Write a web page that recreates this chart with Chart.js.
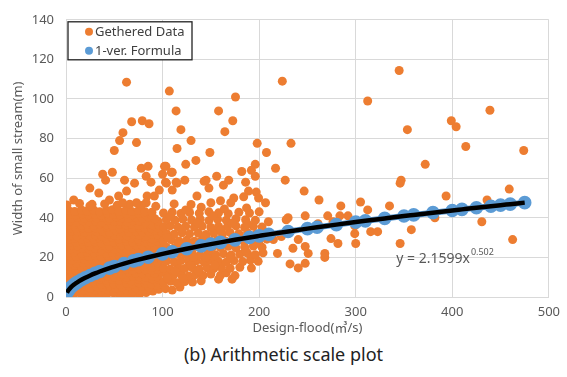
<!DOCTYPE html>
<html>
<head>
<meta charset="utf-8">
<script src="https://cdn.jsdelivr.net/npm/chart.js@4.4.0/dist/chart.umd.min.js"></script>
<style>
  html, body { margin: 0; padding: 0; background: #fff; }
  #wrap { position: relative; width: 567px; height: 377px; }
  #caption {
    position: absolute; left: 0; top: 342px; width: 567px; text-align: center;
    font-family: "Noto Sans", "Open Sans", sans-serif; font-size: 18px; color: #222;
  }
</style>
</head>
<body>
<div id="wrap">
  <canvas id="chart" width="567" height="340"></canvas>
  <div id="caption">(b) Arithmetic scale plot</div>
</div>
<script>
// gathered data: [design-flood, width]
const gathered = [
  // dense core, x 0-100
  [3,1.2],[9,2.0],[16,1.0],[22,1.8],[29,0.9],[35,1.6],[42,1.1],[49,2.1],[55,1.3],[62,0.8],[69,1.7],[76,1.2],[83,2.3],[90,3.0],
  [4.5,3.3],[11,3.0],[17.5,3.5],[24,2.9],[30.5,3.4],[37,3.1],[43.5,3.6],[50,2.8],[56.5,3.3],[63,3.5],[69.5,3.0],[76,3.4],[82.5,3.8],[89,4.4],[96,3.9],
  [1,4.6],[6,5.3],[12,4.8],[19,5.6],[25,4.4],[32,5.2],[38,4.9],[45,5.5],[52,4.5],[58,5.1],[65,5.7],[72,4.6],[79,5.3],[86,4.9],[93,6.0],[99,6.5],
  [4,6.8],[10.5,6.5],[17,7.0],[23.5,6.6],[30,6.9],[36.5,6.4],[43,7.1],[49.5,6.7],[56,6.3],[62.5,7.0],[69,6.6],[75.5,7.2],[82,6.8],[88.5,6.5],[95,7.1],
  [3,8.2],[9,8.9],[15,8.4],[22,8.7],[28,8.1],[35,9.0],[42,8.3],[48,8.8],[55,8.5],[62,9.1],[68,8.2],[75,8.9],[82,8.4],[89,9.2],[96,8.8],
  [4.5,10.3],[11,9.9],[17.5,10.5],[24,10.0],[30.5,10.4],[37,9.8],[43.5,10.6],[50,10.1],[56.5,10.3],[63,9.9],[69.5,10.5],[76,10.2],[82.5,9.8],[89,10.6],[95.5,10.1],
  [1,11.8],[6,12.3],[12,11.6],[19,12.4],[25,12.0],[32,11.7],[38,12.5],[45,11.9],[52,12.2],[58,11.5],[65,12.6],[72,12.1],[79,11.8],[86,12.4],[92,11.9],[99,12.7],
  [4,13.8],[10.5,13.5],[17,14.0],[23.5,13.6],[30,13.9],[36.5,13.4],[43,14.1],[49.5,13.7],[56,13.5],[62.5,14.0],[69,13.6],[75.5,14.2],[82,13.8],[88.5,13.5],[95,14.0],
  [3,15.4],[9,15.9],[16,15.2],[22,15.8],[29,15.5],[35,15.1],[42,16.0],[48,15.6],[55,15.3],[62,15.9],[68,15.4],[75,16.1],[82,15.5],[89,15.0],[96,15.8],
  [4.5,17.3],[11,16.9],[17.5,17.5],[24,17.0],[30.5,17.4],[37,16.8],[43.5,17.6],[50,17.1],[56.5,17.3],[63,16.9],[69.5,17.5],[76,17.2],[82.5,16.8],[89,17.6],[95.5,17.1],
  [1,19.2],[6,18.7],[12,19.4],[19,18.9],[25,19.3],[32,18.6],[38,19.1],[45,19.5],[52,18.8],[58,19.2],[65,18.9],[72,19.6],[79,19.0],[86,18.7],[92,19.4],[99,19.1],
  [4,20.8],[10.5,20.5],[17,21.0],[23.5,20.6],[30,20.9],[36.5,20.4],[43,21.1],[49.5,20.7],[56,20.5],[62.5,21.0],[69,20.6],[75.5,21.2],[82,20.8],[88.5,20.5],[95,21.0],
  [3,22.3],[9,22.8],[16,22.1],[22,22.7],[29,22.4],[35,23.0],[42,22.2],[48,22.6],[55,22.9],[62,22.3],[68,22.8],[75,22.1],[82,22.7],[89,22.4],[96,23.0],
  [4.5,24.3],[11,23.9],[17.5,24.5],[24,24.0],[30.5,24.4],[37,23.8],[43.5,24.6],[50,24.1],[56.5,24.3],[63,23.9],[69.5,24.5],[76,24.2],[82.5,23.8],[89,24.6],[95.5,24.1],
  [1,25.8],[6,26.3],[12,25.9],[19,26.4],[25,25.7],[32,26.2],[38,26.0],[45,25.6],[52,26.5],[58,26.1],[65,25.8],[72,26.3],[79,25.9],[86,26.6],[92,25.7],[99,26.2],
  [4,27.8],[10.5,27.5],[17,28.0],[23.5,27.6],[30,27.9],[36.5,27.4],[43,28.1],[49.5,27.7],[56,27.5],[62.5,28.0],[69,27.6],[75.5,28.2],[82,27.8],[88.5,27.5],[95,28.0],
  [3,29.3],[9,29.8],[16,29.4],[22,29.9],[29,29.2],[35,29.7],[42,29.5],[48,30.0],[55,29.3],[62,29.6],[68,29.9],[75,29.2],[82,29.7],[89,29.4],[96,30.1],
  [4.5,31.3],[11,30.9],[17.5,31.5],[24,31.0],[30.5,31.4],[37,30.8],[43.5,31.6],[50,31.1],[56.5,31.3],[63,30.9],[69.5,31.5],[76,31.2],[82.5,30.8],[89,31.6],[95.5,31.1],
  [1,32.8],[6,33.3],[12,33.0],[19,32.7],[25,33.4],[32,32.9],[38,33.2],[45,32.6],[52,33.5],[58,33.0],[65,32.8],[72,33.3],[79,32.7],[86,33.1],[92,33.6],[99,32.9],
  [4,34.8],[10.5,34.5],[17,35.0],[23.5,34.6],[30,34.9],[36.5,34.4],[43,35.1],[49.5,34.7],[56,34.5],[62.5,35.0],[69,34.6],[75.5,35.2],[82,34.8],[88.5,34.5],[95,35.0],
  [3,36.4],[9,36.8],[16,36.2],[22,36.7],[29,36.3],[35,36.9],[42,36.5],[48,36.1],[55,36.8],[62,36.4],[68,36.7],[75,36.2],[82,36.9],[89,36.5],[96,36.3],
  [4.5,38.3],[11,37.9],[17.5,38.5],[24,38.0],[30.5,38.4],[37,37.8],[43.5,38.6],[50,38.1],[56.5,38.3],[63,37.9],[69.5,38.5],[76,38.2],[82.5,37.8],[89,38.6],[95.5,38.1],
  [1,40.2],[6,39.7],[12,40.3],[19,39.8],[25,40.4],[32,39.9],[38,40.1],[45,39.6],[52,40.5],[58,40.0],[65,39.7],[72,40.3],[79,39.8],[86,40.2],[92,39.5],
  [4,41.8],[10.5,41.5],[17,42.0],[23.5,41.6],[30,41.9],[36.5,41.4],[43,42.1],[49.5,41.7],[56,41.5],[62.5,42.0],[69,41.6],[75.5,42.2],[82,41.8],[88.5,41.5],
  [3,43.6],[9,43.2],[16,44.0],[22,43.4],[29,43.8],[35,43.1],[42,43.7],[48,44.1],[55,43.3],[62,43.9],[68,43.2],[75,43.6],[82,43.0],[89,42.8],
  [1,46.5],[14,47.2],[27,46.8],[40,47.0],[53,46.3],[66,46.9],[78,46.2],[93,45.8],
  // medium band, x 100-210
  [103,4.2],[110,3.5],[118,5.0],
  [101,7.4],[108,8.0],[115,7.2],[123,7.8],[131,7.6],[140,8.2],[158,9.0],[172,9.0],
  [104,11.2],[111,10.8],[119,11.5],[127,10.6],[134,11.3],[142,10.9],[150,11.6],[160,11.0],[166,12.2],[175,10.8],
  [101,14.6],[108,14.2],[116,14.9],[123,14.4],[131,14.7],[138,14.1],[146,14.8],[153,14.3],[161,14.9],[170,14.5],[180,15.0],[192,14.6],
  [104,18.1],[112,17.8],[119,18.4],[127,17.9],[135,18.3],[143,17.7],[150,18.5],[158,18.0],[166,17.6],[174,18.4],[183,17.9],[191,18.6],[199,18.0],
  [101,21.6],[108,21.2],[116,21.9],[124,21.4],[131,21.8],[139,21.1],[147,21.7],[155,21.3],[163,21.9],[171,21.2],[180,21.6],[188,22.0],[196,21.4],[204,22.3],
  [104,25.2],[112,24.8],[120,25.5],[128,24.9],[136,25.3],[144,24.7],[152,25.4],[160,25.0],[168,25.6],[176,24.8],[185,25.3],[194,25.7],[203,25.1],
  [101,28.4],[109,28.9],[117,28.3],[125,28.7],[133,28.2],[141,28.8],[149,28.4],[157,28.9],[165,28.3],[174,28.7],[183,28.5],[192,29.0],[200,28.4],[208,29.2],
  [104,32.1],[112,31.7],[120,32.4],[128,31.9],[137,32.2],[145,31.6],[153,32.3],[162,31.8],[170,32.5],[179,32.0],[188,32.4],[197,31.8],[206,32.6],
  [101,35.4],[108,35.9],[116,35.2],[124,35.7],[133,35.3],[141,35.8],[150,35.1],[158,35.6],[167,35.4],[176,35.9],[185,35.2],[194,35.7],[203,35.3],
  [104,39.1],[113,38.7],[121,39.4],[130,38.9],[139,39.3],[148,38.6],[157,39.2],[166,38.8],[176,39.5],[186,39.0],[196,38.7],
  [101,42.4],[110,42.9],[119,42.2],[128,42.7],[138,42.3],[148,43.0],[158,42.5],[168,42.1],[179,42.8],[190,42.4],[200,43.0],
  [105,9.5],[113,13],[121,9.3],[129,16.2],[137,13],[145,20],[112,23.3],[128,27],[144,30.2],[105,30],
  [120,34],[136,37.5],[152,41],[108,40.8],[124,44],[140,45.3],[116,26.8],[132,20],[148,23.5],[160,33.8],
  [172,37.2],[180,30.4],[164,44.5],[188,36.8],[196,26.8],[154,16],[170,19.8],[186,23.5],
  // scattered upper points
  [62.7,108.5],[107,104],[114,94],[68,88.5],[79,89],[86,87.5],[158,94],[59,83],[55.5,79],[73,78],
  [119,84.5],[129.5,79],[115,75],[50,74],[149,73],[134.5,69],[124,67],[78,65],[85,66],[102,66],
  [38,62],[48,63],[41,59],[60.6,59],[71,57.5],[109,63],[100,62],[123,59],[115,57.5],[24.7,55],[145,59],[156,61],
  [8,49],[34,52.5],[24.7,46],[45,49],[54.5,51],[62.7,53.5],[58.6,47.6],[73,47.6],[84,51],[83,47.6],
  [83,61],[88,58],[96.6,54],[103.5,66],[103,58],[91.5,51],
  [164.5,83.5],[198,77.6],[207.6,73],[110,63],[196,67],[182,63.4],[192,64],[196,61],[143,58.4],[148,55],
  [163,56.5],[168.5,59],[186,58],[104,57.5],[114,58],[110,54],[135.6,51],[189,53.5],[197,53],[173.7,50],
  [184,50.6],[112,47],[129.5,46.7],[150,47.6],[160,48.6],[170.6,47.6],[187,45],[206.6,47.6],[199.4,50],
  [224,109],[312.4,99],[345,114.4],[175.5,101],[172.7,89],[233,77.6],[217,65],[227,59],[246.6,53.5],
  // x 200-480
  [262,49],[284.6,46],[305,48],[335,46],[312.4,44],[283.6,41],[230,40],[247.7,41],[261,37],[276.5,38],
  [299,36],[315.5,33],[322.7,33],[299,32],[274.4,29.5],[281.6,27],[300,27],[240.5,29],[235,24.6],[247.7,25.5],
  [250.8,22],[268,20],[268,22],[232,16.7],[240.5,14.7],[247.7,17],[219,22],[223,30.5],[214.8,29],[209.6,38],
  [228,39],[271,41],[292,41],
  [346,57.5],[393.6,51],[436,49],[459,54.5],[382,40],[357.6,34],[346,27],[430.6,38],[462.5,29],
  [353.5,84.5],[372,67],[347,59],[399,89],[404,86],[439,94.3],[414,76],[474,74]
];

// 1-ver. formula values (y = 2.1599x^0.502)
const formulaX = [1,2,3,5,8,10,12,16,20,25,30,35,45,50,60,70,75,85,100,110,125,140,150,160,175,190,200,210,230,250,260,280,300,310,330,350,360,380,400,410,425,440,450,460,475];
const formulaY = [2.16,3.06,3.75,4.85,6.14,6.86,7.52,8.69,9.72,10.87,11.91,12.87,14.60,15.39,16.87,18.23,18.87,20.09,21.80,22.87,24.38,25.81,26.72,27.60,28.87,30.09,30.87,31.64,33.11,34.53,35.22,36.55,37.84,38.47,39.69,40.89,41.46,42.60,43.72,44.26,45.07,45.86,46.38,46.89,47.66];

const xTicks = [0, 100, 200, 300, 400, 500];
const yTicks = [0, 20, 40, 60, 80, 100, 120, 140];

const orange = "#ED7D31";
const blue = "#5B9BD5";
const tickColor = "#595959";
const fontFamily = "'Noto Sans', 'Noto Sans CJK KR', sans-serif";

const formulaPoints = formulaX.map((x, i) => ({x: x, y: formulaY[i]}));

// legend box + equation label
const extras = {
    id: "extras",
    afterDraw(chart) {
        const ctx = chart.ctx;
        const area = chart.chartArea;
        const bx = area.left + 2, by = area.top + 2, bw = 124, bh = 38;
        ctx.save();
        ctx.fillStyle = "#fff";
        ctx.fillRect(bx, by, bw, bh);
        ctx.strokeStyle = "#222";
        ctx.lineWidth = 1.3;
        ctx.strokeRect(bx, by, bw, bh);
        const items = [
            {label: chart.data.datasets[0].label, color: orange},
            {label: chart.data.datasets[1].label, color: blue}
        ];
        ctx.font = "13px " + fontFamily;
        ctx.textBaseline = "middle";
        items.forEach((it, i) => {
            const cy = by + 10 + i * 19;
            ctx.fillStyle = it.color;
            ctx.beginPath();
            ctx.arc(bx + 21, cy, 4, 0, Math.PI * 2);
            ctx.fill();
            ctx.fillStyle = "#404040";
            ctx.fillText(it.label, bx + 27, cy);
        });

        // trendline equation
        const xs = chart.scales.x, ys = chart.scales.y;
        const ex = xs.getPixelForValue(342), ey = ys.getPixelForValue(20);
        ctx.fillStyle = tickColor;
        ctx.textBaseline = "alphabetic";
        ctx.font = "14px " + fontFamily;
        const main = "y = 2.1599x";
        ctx.fillText(main, ex, ey + 6);
        const w = ctx.measureText(main).width;
        ctx.font = "9px " + fontFamily;
        ctx.fillText("0.502", ex + w + 1, ey - 2);
        ctx.restore();
    }
};

new Chart(document.getElementById("chart").getContext("2d"), {
    type: "scatter",
    data: {
        datasets: [
            {
                label: "Gethered Data",
                data: gathered.map(p => ({x: p[0], y: p[1]})),
                backgroundColor: orange,
                borderWidth: 0,
                pointRadius: 4.5,
                order: 3
            },
            {
                label: "1-ver. Formula",
                data: formulaPoints,
                backgroundColor: blue,
                borderColor: blue,
                borderWidth: 6,
                showLine: true,
                pointRadius: 3.8,
                order: 2
            },
            {
                label: "trend",
                data: formulaPoints,
                borderColor: "#000",
                borderWidth: 4.5,
                showLine: true,
                cubicInterpolationMode: "monotone",
                pointRadius: 0,
                order: 1
            }
        ]
    },
    options: {
        responsive: false,
        animation: false,
        devicePixelRatio: 1,
        layout: {padding: {top: 12, right: 15, left: 0, bottom: 0}},
        plugins: {
            legend: {display: false},
            tooltip: {enabled: false}
        },
        scales: {
            x: {
                type: "linear",
                min: 0, max: 500,
                afterFit: s => { s.height = 43; },
                afterBuildTicks: s => { s.ticks = xTicks.map(v => ({value: v})); },
                grid: {color: "#d9d9d9", drawTicks: false},
                border: {color: "#d9d9d9"},
                ticks: {color: tickColor, padding: 7, font: {size: 13, family: fontFamily}},
                title: {
                    display: true,
                    text: "Design-flood(㎥/s)",
                    color: tickColor,
                    padding: {top: 0, bottom: 4},
                    font: {size: 13, family: fontFamily}
                }
            },
            y: {
                min: 0, max: 140,
                afterFit: s => { s.width = 66; },
                afterBuildTicks: s => { s.ticks = yTicks.map(v => ({value: v})); },
                grid: {color: "#d9d9d9", drawTicks: false},
                border: {color: "#d9d9d9"},
                ticks: {color: tickColor, padding: 12, font: {size: 13, family: fontFamily}},
                title: {
                    display: true,
                    text: "Width of small stream(m)",
                    color: tickColor,
                    padding: {top: 10, bottom: 0},
                    font: {size: 13, family: fontFamily}
                }
            }
        }
    },
    plugins: [extras]
});
</script>
</body>
</html>
